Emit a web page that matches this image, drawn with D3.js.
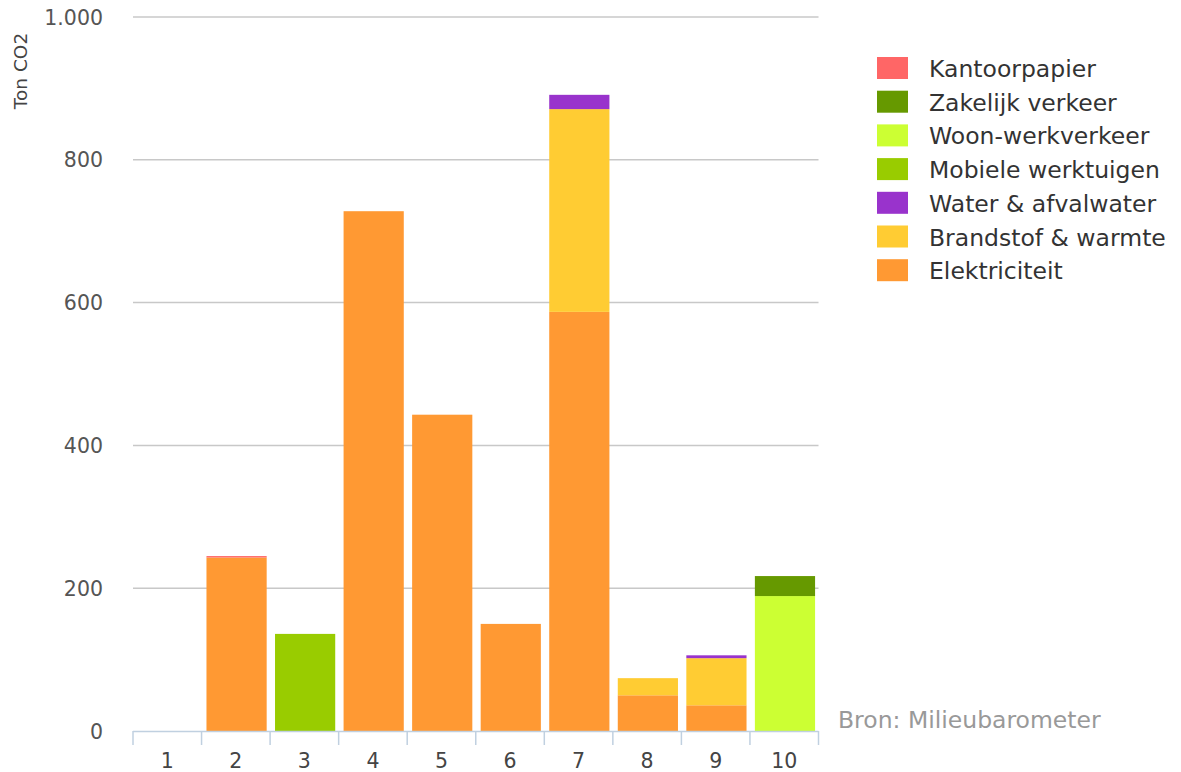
<!DOCTYPE html>
<html>
<head>
<meta charset="utf-8">
<script src="https://cdn.jsdelivr.net/npm/d3@7"></script>
<style>
  body { margin: 0; background: #fff; }
  text { font-family: "DejaVu Sans", Verdana, sans-serif; }
</style>
</head>
<body>
<svg id="chart" width="1181" height="772"></svg>
<script>
// Categories along the x axis
const categories = ["1", "2", "3", "4", "5", "6", "7", "8", "9", "10"];

// Series, stacked bottom to top (ton CO2)
const elektriciteit      = [0, 243, 0, 728, 443, 150, 587, 50, 36, 0];
const brandstofWarmte    = [0, 0, 0, 0, 0, 0, 284, 24, 66, 0];
const waterAfvalwater    = [0, 0, 0, 0, 0, 0, 20, 0, 4, 0];
const mobieleWerktuigen  = [0, 0, 136, 0, 0, 0, 0, 0, 0, 0];
const woonWerkverkeer    = [0, 0, 0, 0, 0, 0, 0, 0, 0, 189];
const zakelijkVerkeer    = [0, 0, 0, 0, 0, 0, 0, 0, 0, 28];
const kantoorpapier      = [0, 2, 0, 0, 0, 0, 0, 0, 0, 0];

const yTicks = [0, 200, 400, 600, 800, 1000];

const series = [
  { name: "Elektriciteit", values: elektriciteit, color: "#ff9933" },
  { name: "Brandstof & warmte", values: brandstofWarmte, color: "#ffcc33" },
  { name: "Water & afvalwater", values: waterAfvalwater, color: "#9933cc" },
  { name: "Mobiele werktuigen", values: mobieleWerktuigen, color: "#99cc00" },
  { name: "Woon-werkverkeer", values: woonWerkverkeer, color: "#ccff33" },
  { name: "Zakelijk verkeer", values: zakelijkVerkeer, color: "#669900" },
  { name: "Kantoorpapier", values: kantoorpapier, color: "#ff6666" }
];

const svg = d3.select("#chart");
const margin = { left: 133, right: 818.5, top: 17, bottom: 731 };

const x = d3.scaleBand().domain(categories).range([margin.left, margin.right]).paddingInner(0.1).paddingOuter(0.05);
const y = d3.scaleLinear().domain([0, 1000]).range([margin.bottom, margin.top]);

// Horizontal grid lines
svg.append("g")
  .selectAll("line")
  .data(yTicks.filter(d => d > 0))
  .join("line")
  .attr("x1", margin.left).attr("x2", margin.right)
  .attr("y1", d => y(d)).attr("y2", d => y(d))
  .attr("stroke", "#c8c8c8").attr("stroke-width", 1.5);

// Y axis labels (thousands separator is a dot)
const fmt = d => d >= 1000 ? d3.format(",")(d).replace(/,/g, ".") : String(d);
svg.append("g")
  .selectAll("text")
  .data(yTicks)
  .join("text")
  .attr("x", 103).attr("y", d => y(d) + 7.5)
  .attr("text-anchor", "end")
  .attr("fill", "#555")
  .attr("font-size", 20.5)
  .text(fmt);

// Y axis title
svg.append("text")
  .attr("transform", "translate(27,71) rotate(-90)")
  .attr("text-anchor", "middle")
  .attr("fill", "#444")
  .attr("font-size", 18.5)
  .text("Ton CO2");

// Stacked bars
const rows = categories.map((c, i) => {
  const r = { cat: c };
  series.forEach(s => { r[s.name] = s.values[i]; });
  return r;
});
const stack = d3.stack().keys(series.map(s => s.name));
const stacked = stack(rows);

svg.append("g")
  .selectAll("g")
  .data(stacked)
  .join("g")
  .attr("fill", (d, i) => series[i].color)
  .selectAll("rect")
  .data(d => d.filter(p => p[1] - p[0] > 0))
  .join("rect")
  .attr("x", d => x(d.data.cat) + 1.5)
  .attr("width", x.bandwidth() - 1.5)
  .attr("y", d => y(d[1]))
  .attr("height", d => y(d[0]) - y(d[1]));

// X axis line and ticks
const axisColor = "#c0d0e0";
svg.append("line")
  .attr("x1", margin.left).attr("x2", margin.right)
  .attr("y1", margin.bottom + 0.5).attr("y2", margin.bottom + 0.5)
  .attr("stroke", axisColor).attr("stroke-width", 1.5);

const tickXs = d3.range(categories.length + 1).map(i => margin.left + i * (margin.right - margin.left) / categories.length);
svg.append("g")
  .selectAll("line")
  .data(tickXs)
  .join("line")
  .attr("x1", d => d).attr("x2", d => d)
  .attr("y1", margin.bottom).attr("y2", margin.bottom + 14)
  .attr("stroke", axisColor).attr("stroke-width", 1.5);

svg.append("g")
  .selectAll("text")
  .data(categories)
  .join("text")
  .attr("x", d => x(d) + x.bandwidth() / 2)
  .attr("y", 768)
  .attr("text-anchor", "middle")
  .attr("fill", "#444")
  .attr("font-size", 20.5)
  .text(d => d);

// Legend (top entry is the topmost stack layer)
const legendItems = series.slice().reverse();
const legend = svg.append("g")
  .selectAll("g")
  .data(legendItems)
  .join("g")
  .attr("transform", (d, i) => `translate(877,${57 + i * 33.7})`);
legend.append("rect")
  .attr("width", 31).attr("height", 22)
  .attr("fill", d => d.color);
legend.append("text")
  .attr("x", 52).attr("y", 20)
  .attr("fill", "#333")
  .attr("font-size", 23.5)
  .text(d => d.name);

// Source credit
svg.append("text")
  .attr("x", 838).attr("y", 728)
  .attr("fill", "#999")
  .attr("font-size", 23.5)
  .text("Bron: Milieubarometer");
</script>
</body>
</html>
